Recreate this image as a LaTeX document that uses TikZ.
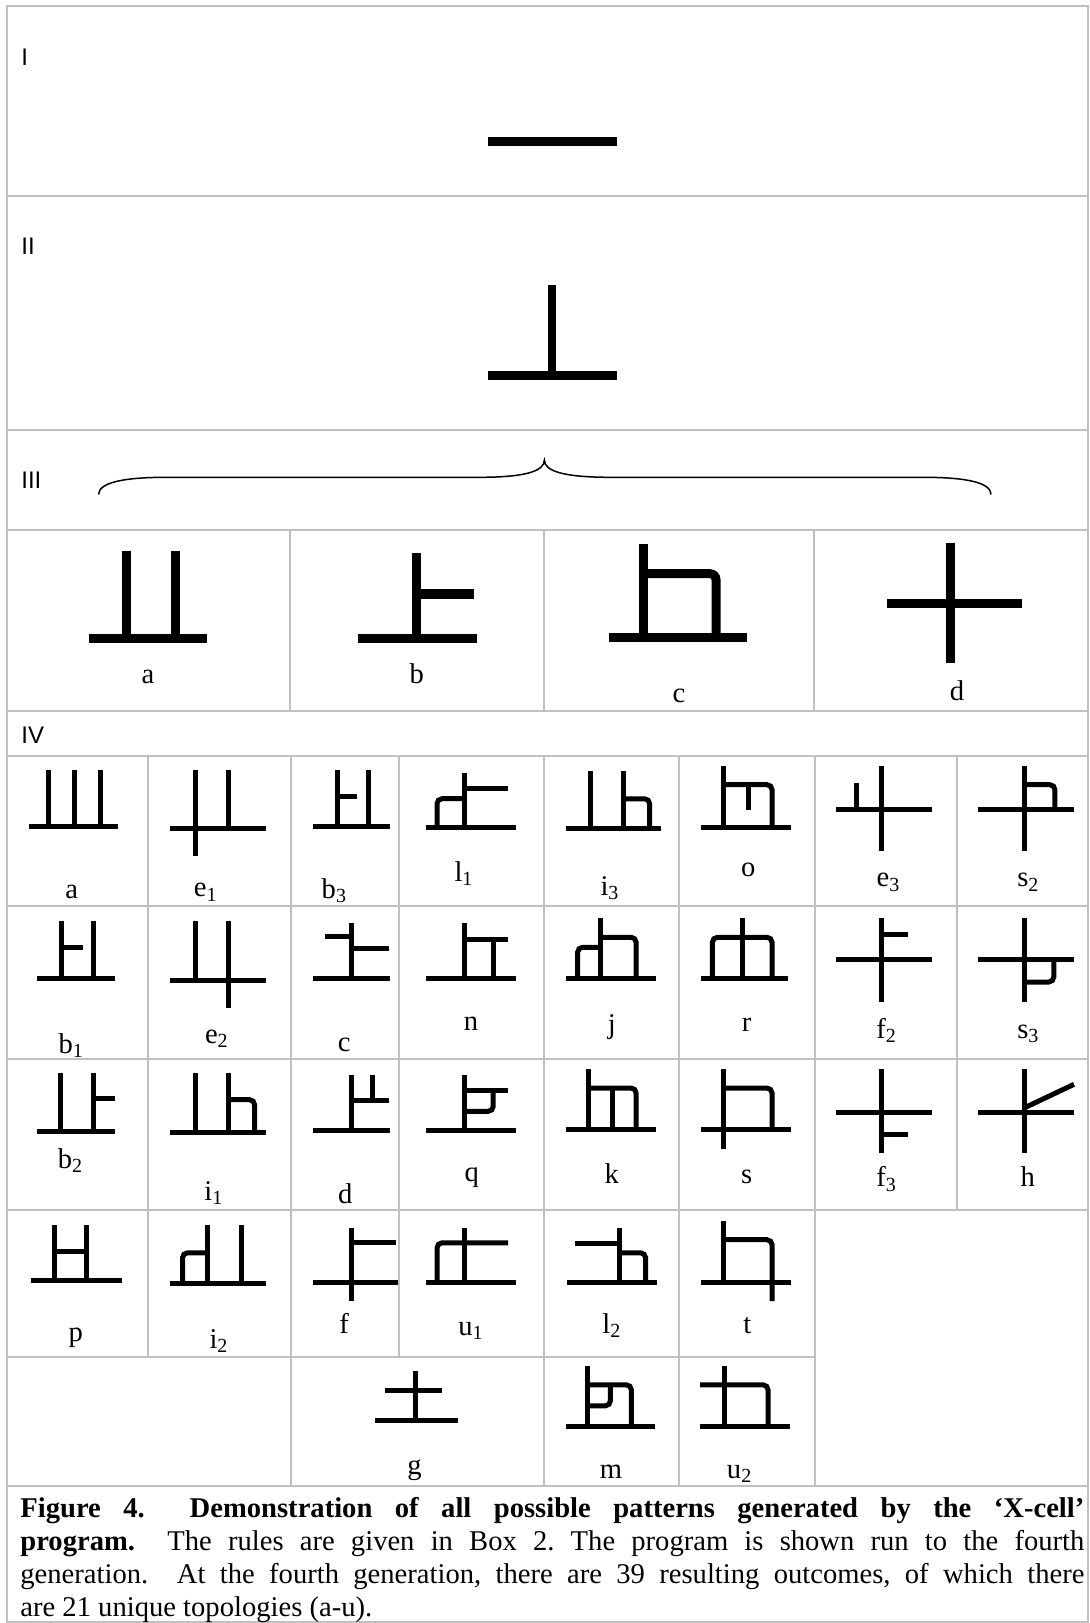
\documentclass[tikz,border=0pt]{standalone}
\usepackage{fontspec}
\setmainfont{Liberation Serif}
\newfontfamily\sansL{Liberation Sans}
\definecolor{gridc}{RGB}{192,192,192}
\begin{document}
\begin{tikzpicture}[x=0.5pt,y=-0.5pt,
 gridl/.style={draw=gridc,line width=1pt},
 big/.style={line width=4.5pt},
 sm/.style={line width=2.5pt},
 rc/.style={rounded corners=2.5pt},
 lbl/.style={font=\fontsize{14.3pt}{16.6pt}\selectfont, anchor=base, inner sep=0pt},
 rnum/.style={font=\sansL\fontsize{12pt}{14pt}\selectfont, anchor=west, inner sep=0pt}]
\useasboundingbox (0,0) rectangle (1089,1623);
% ---------- grid ----------
\draw[gridl] (7,6) rectangle (1087.5,1622);
\foreach \yy in {196,430,530,710.5,756,906,1059,1209.5,1486}
  \draw[gridl] (7,\yy) -- (1087.5,\yy);
\draw[gridl] (7,1356.5) -- (815,1356.5);
\foreach \xx in {290.3,543.8,814}
  \draw[gridl] (\xx,530) -- (\xx,710.5);
\foreach \xx in {147.5,291,399,543.5,679,815,956.7}
  \draw[gridl] (\xx,756) -- (\xx,1209.5);
\foreach \xx in {147.5,291,399,543.5,679,815}
  \draw[gridl] (\xx,1209.5) -- (\xx,1356.5);
\foreach \xx in {291,543.5,679,815}
  \draw[gridl] (\xx,1356.5) -- (\xx,1486);
% ---------- row labels ----------
\node[rnum] (nI) at (21,56.8) {I};
\node[rnum] (nII) at (21,246) {II};
\node[rnum] (nIII) at (21,480.4) {III};
\node[rnum] (nIV) at (21,735.5) {IV};
% ---------- generation I, II ----------
\draw[line width=4.75pt] (488.2,141.5) -- (616.7,141.5);
\draw[line width=4.2pt] (552,285) -- (552,375.6);
\draw[line width=4.65pt] (488,375.6) -- (617.4,375.6);
% ---------- brace ----------
\draw[line width=0.75pt] (98.6,494.5) .. controls (98.6,483) and (122,477.3) .. (166,477.3)
  -- (479,477.3) .. controls (526,477.3) and (544.4,471) .. (544.4,460)
  .. controls (544.4,471) and (563,477.3) .. (611,477.3)
  -- (923.6,477.3) .. controls (968,477.3) and (991,483) .. (991,494.5);
% ---------- generation III ----------
\draw[big] (126,550.7) -- (126,638.8);
\draw[big] (175.3,550.7) -- (175.3,638.8);
\draw[big] (88.9,638.8) -- (207,638.8);
\draw[big] (416.3,553.3) -- (416.3,638.2);
\draw[line width=5pt] (416.3,594.2) -- (474.3,594.2);
\draw[big] (357.6,638.2) -- (477,638.2);
\draw[big] (643.4,544.3) -- (643.4,637.8);
\draw[big,rounded corners=3pt] (643.4,573.7) -- (716,573.7) -- (716,637.8);
\draw[big] (609,637.8) -- (746.5,637.8);
\draw[big] (950.7,542.7) -- (950.7,662.7);
\draw[big] (886.8,603.5) -- (1021.5,603.5);
\node[lbl] (l3a) at (148,683) {a};
\node[lbl] (l3b) at (416.7,683) {b};
\node[lbl] (l3c) at (679,702.7) {c};
\node[lbl] (l3d) at (957,700) {d};
% ---------- generation IV, row 1 ----------
\draw[sm] (48.5,770) -- (48.5,826.2);
\draw[sm] (74,770) -- (74,826.2);
\draw[sm] (100.1,770) -- (100.1,826.2);
\draw[sm] (28.5,826.2) -- (117.5,826.2);
\node[lbl] (r1a) at (71.6,898.3) {a};
\draw[sm] (195.5,770) -- (195.5,856);
\draw[sm] (228.5,770) -- (228.5,828.3);
\draw[sm] (170.3,828.3) -- (266.2,828.3);
\node[lbl] (r1e) at (205.8,896.7) {e\textsubscript{1}};
\draw[sm] (337.2,770) -- (337.2,826.7);
\draw[sm] (337.2,796.3) -- (357.3,796.3);
\draw[sm] (368.6,770) -- (368.6,826.7);
\draw[sm] (312.8,826.7) -- (390,826.7);
\node[lbl] (r1b) at (334.4,898.3) {b\textsubscript{3}};
\draw[sm] (464,772.7) -- (464,827);
\draw[sm] (464,788.8) -- (508.2,788.8);
\draw[sm,rc] (464,798.7) -- (437,798.7) -- (437,827);
\draw[sm] (425.8,827) -- (515.5,827);
\node[lbl] (r1l) at (464,881) {l\textsubscript{1}};
\draw[sm] (590.6,770.7) -- (590.6,828.7);
\draw[sm] (623.7,770.7) -- (623.7,828.7);
\draw[sm,rc] (623.7,798.8) -- (649.6,798.8) -- (649.6,828.7);
\draw[sm] (565.6,828.7) -- (661.1,828.7);
\node[lbl] (r1i) at (610,895) {i\textsubscript{3}};
\draw[sm] (723,766) -- (723,827);
\draw[sm,rc] (723,784.7) -- (772,784.7) -- (772,827);
\draw[sm] (748,784.7) -- (748,810);
\draw[sm] (701,827) -- (791.4,827);
\node[lbl] (r1o) at (748.3,876.7) {o};
\draw[sm] (881.9,766) -- (881.9,850.7);
\draw[sm] (856,783.3) -- (856,809);
\draw[sm] (835.9,809) -- (931.5,809);
\node[lbl] (r1e3) at (888.4,886.7) {e\textsubscript{3}};
\draw[sm] (1024,766) -- (1024,850.7);
\draw[sm] (977.7,809) -- (1074,809);
\draw[sm,rc] (1024,784.7) -- (1054.9,784.7) -- (1054.9,809);
\node[lbl] (r1s) at (1028.4,886.7) {s\textsubscript{2}};
% ---------- row 2 ----------
\draw[sm] (61,921) -- (61,978.2);
\draw[sm] (61,947.3) -- (82.7,947.3);
\draw[sm] (93.7,921) -- (93.7,978.2);
\draw[sm] (37.2,978.2) -- (115.4,978.2);
\node[lbl] (r2b) at (71.3,1053.3) {b\textsubscript{1}};
\draw[sm] (195.5,921) -- (195.5,980);
\draw[sm] (228.7,921) -- (228.7,1007.7);
\draw[sm] (170.3,980) -- (266.2,980);
\node[lbl] (r2e) at (216.9,1043.3) {e\textsubscript{2}};
\draw[sm] (351.2,923.3) -- (351.2,978);
\draw[sm] (325,936.3) -- (351.2,936.3);
\draw[sm] (351.2,948.3) -- (388.6,948.3);
\draw[sm] (312.8,978) -- (390,978);
\node[lbl] (r2c) at (344.1,1051.7) {c};
\draw[sm] (464,923.3) -- (464,978.7);
\draw[sm] (464,939.7) -- (508.2,939.7);
\draw[sm] (493.2,939.7) -- (493.2,978.7);
\draw[sm] (425.8,978.7) -- (515.5,978.7);
\node[lbl] (r2n) at (471,1030) {n};
\draw[sm] (600.8,917.7) -- (600.8,978);
\draw[sm,rc] (600.8,937.3) -- (636.1,937.3) -- (636.1,978);
\draw[sm,rc] (600.8,947.3) -- (577.6,947.3) -- (577.6,978);
\draw[sm] (565.6,978) -- (655.5,978);
\node[lbl] (r2j) at (611.8,1033.3) {j};
\draw[sm] (742.2,917.7) -- (742.2,978);
\draw[sm,rc] (712.4,978) -- (712.4,937.3) -- (772,937.3) -- (772,978);
\draw[sm] (701,978) -- (787.6,978);
\node[lbl] (r2r) at (746.6,1031) {r};
\draw[sm] (881.9,917.7) -- (881.9,1001.7);
\draw[sm] (881.9,934.7) -- (907.6,934.7);
\draw[sm] (835.9,959.7) -- (931.5,959.7);
\node[lbl] (r2f) at (886.6,1038.3) {f\textsubscript{2}};
\draw[sm] (1024,917.7) -- (1024,1001.7);
\draw[sm] (977.7,959.7) -- (1074,959.7);
\draw[sm,rc] (1053.8,959.7) -- (1053.8,982) -- (1024,982);
\node[lbl] (r2s) at (1028.4,1038.3) {s\textsubscript{3}};
% ---------- row 3 ----------
\draw[sm] (60.3,1073.3) -- (60.3,1131.2);
\draw[sm] (93.7,1073.3) -- (93.7,1131.2);
\draw[sm] (93.7,1098.3) -- (115.4,1098.3);
\draw[sm] (37.2,1131.2) -- (115.4,1131.2);
\node[lbl] (r3b) at (70.6,1168.3) {b\textsubscript{2}};
\draw[sm] (195.5,1073.3) -- (195.5,1132.3);
\draw[sm] (228.7,1073.3) -- (228.7,1132.3);
\draw[sm,rc] (228.7,1099.7) -- (254.6,1099.7) -- (254.6,1132.3);
\draw[sm] (170.3,1132.3) -- (266.2,1132.3);
\node[lbl] (r3i) at (213.8,1200) {i\textsubscript{1}};
\draw[sm] (351.2,1075) -- (351.2,1130.5);
\draw[sm] (372.1,1075) -- (372.1,1100);
\draw[sm] (351.2,1100) -- (388.6,1100);
\draw[sm] (312.8,1130.5) -- (390,1130.5);
\node[lbl] (r3d) at (345.2,1203.3) {d};
\draw[sm] (464,1075) -- (464,1130.5);
\draw[sm] (464,1090.3) -- (508.2,1090.3);
\draw[sm,rc] (493.2,1090.3) -- (493.2,1111.3) -- (464,1111.3);
\draw[sm] (425.8,1130.5) -- (515.5,1130.5);
\node[lbl] (r3q) at (471.7,1181.7) {q};
\draw[sm] (588.1,1069) -- (588.1,1129.5);
\draw[sm,rc] (588.1,1088) -- (636.1,1088) -- (636.1,1129.5);
\draw[sm] (612,1088) -- (612,1129.5);
\draw[sm] (565.6,1129.5) -- (655.5,1129.5);
\node[lbl] (r3k) at (611.8,1183.3) {k};
\draw[sm] (723,1069) -- (723,1149);
\draw[sm,rc] (723,1088) -- (772,1088) -- (772,1129.5);
\draw[sm] (701,1129.5) -- (791.4,1129.5);
\node[lbl] (r3s) at (746.6,1183.3) {s};
\draw[sm] (881.9,1069) -- (881.9,1153.3);
\draw[sm] (835.9,1112) -- (931.5,1112);
\draw[sm] (881.9,1134) -- (907.6,1134);
\node[lbl] (r3f) at (886.6,1186.7) {f\textsubscript{3}};
\draw[sm] (1024,1069) -- (1024,1153.3);
\draw[sm] (977.7,1112) -- (1074,1112);
\draw[sm] (1024,1108) -- (1074,1084.3);
\node[lbl] (r3h) at (1027.7,1186.7) {h};
% ---------- row 4 ----------
\draw[sm] (54,1225) -- (54,1280.5);
\draw[sm] (86,1225) -- (86,1280.5);
\draw[sm] (54,1251.3) -- (86,1251.3);
\draw[sm] (30.6,1280.5) -- (122.3,1280.5);
\node[lbl] (r4p) at (75.8,1341.7) {p};
\draw[sm,rc] (182.5,1283) -- (182.5,1252.8) -- (207.9,1252.8);
\draw[sm] (207.9,1225) -- (207.9,1283);
\draw[sm] (241.2,1225) -- (241.2,1283);
\draw[sm] (170.3,1283) -- (266.2,1283);
\node[lbl] (r4i) at (219,1348.3) {i\textsubscript{2}};
\draw[sm] (351.2,1227.7) -- (351.2,1301);
\draw[sm] (351.2,1242.8) -- (395.6,1242.8);
\draw[sm] (312.8,1282) -- (398,1282);
\node[lbl] (r4f) at (344.1,1333.3) {f};
\draw[sm,rc] (437,1282) -- (437,1242.8) -- (508.2,1242.8);
\draw[sm] (464,1227.7) -- (464,1282);
\draw[sm] (425.8,1282) -- (515.5,1282);
\node[lbl] (r4u) at (471,1335) {u\textsubscript{1}};
\draw[sm] (619,1227.7) -- (619,1282);
\draw[sm] (575,1243.8) -- (619,1243.8);
\draw[sm,rc] (619,1252.8) -- (645.6,1252.8) -- (645.6,1282);
\draw[sm] (567.3,1282) -- (657.3,1282);
\node[lbl] (r4l) at (611.8,1333.3) {l\textsubscript{2}};
\draw[sm] (723,1221) -- (723,1282);
\draw[sm,rc] (723,1239.7) -- (772,1239.7) -- (772,1301);
\draw[sm] (701,1282) -- (791.4,1282);
\node[lbl] (r4t) at (747.3,1333.3) {t};
% ---------- row 5 ----------
\draw[sm] (415,1370.7) -- (415,1420.2);
\draw[sm] (385.4,1390) -- (442.4,1390);
\draw[sm] (375,1420.2) -- (458.3,1420.2);
\node[lbl] (r5g) at (414.6,1474) {g};
\draw[sm] (587.5,1366) -- (587.5,1426.7);
\draw[sm,rc] (587.5,1384.8) -- (631.3,1384.8) -- (631.3,1426.7);
\draw[sm,rc] (610.4,1384.8) -- (610.4,1405.8) -- (587.5,1405.8);
\draw[sm] (566,1426.7) -- (654.9,1426.7);
\node[lbl] (r5m) at (611,1478.3) {m};
\draw[sm] (724,1366) -- (724,1426.7);
\draw[sm,rc] (700,1384.8) -- (768,1384.8) -- (768,1426.7);
\draw[sm] (700,1426.7) -- (790.3,1426.7);
\node[lbl] (r5u) at (739.6,1478.3) {u\textsubscript{2}};
% ---------- caption ----------
\node[anchor=base west, inner sep=0pt, text width=532pt, align=justify,
      font=\fontsize{14.3pt}{16.6pt}\selectfont] (cap) at (20,1517)
 {\frenchspacing\textbf{Figure 4.\ \ Demonstration of all possible patterns generated by the ‘X-cell’}\linebreak
  \textbf{program.}\ \ The rules are given in Box 2. The program is shown run to the fourth\linebreak
  generation.\ \ At the fourth generation, there are 39 resulting outcomes, of which there\linebreak
  are 21 unique topologies (a-u).};
\end{tikzpicture}
\end{document}
